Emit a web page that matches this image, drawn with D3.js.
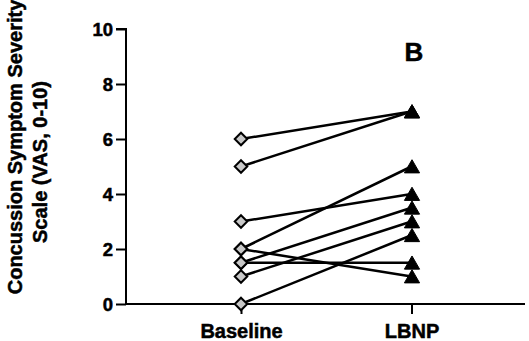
<!DOCTYPE html>
<html>
<head>
<meta charset="utf-8">
<script src="https://cdn.jsdelivr.net/npm/d3@7"></script>
<style>
  body { margin: 0; background: #fff; }
  svg { display: block; }
  svg text { font-family: "Liberation Sans", Arial, sans-serif; font-weight: bold; fill: #000; stroke: #000; stroke-width: 0.5px; }
</style>
</head>
<body>
<div id="chart"></div>
<script>
const conditions = ['Baseline', 'LBNP'];
const baselineValues = [6, 5, 3, 2, 2, 1.5, 1.5, 1, 0];
const lbnpValues = [7, 7, 4, 5, 1, 3.5, 1.5, 3, 2.5];
const yTicks = [0, 2, 4, 6, 8, 10];
const panelLabel = 'B';
const yTitle = ['Concussion Symptom Severity', 'Scale (VAS, 0-10)'];

const width = 529, height = 341;
const margin = { top: 29, right: 4, bottom: 37, left: 126 };

const svg = d3.select('#chart').append('svg')
    .attr('width', width)
    .attr('height', height);

const y = d3.scaleLinear()
    .domain([0, 10])
    .range([height - margin.bottom, margin.top]);

const x = d3.scalePoint()
    .domain(conditions)
    .range([241, 411.5]);

// axes
const yAxis = svg.append('g')
    .attr('transform', `translate(${margin.left},0)`)
    .call(d3.axisLeft(y).tickValues(yTicks).tickSize(10).tickPadding(3));
yAxis.attr('font-family', null);
yAxis.select('.domain').attr('stroke', '#000').attr('stroke-width', 2).attr('d', `M-10,${y(10)}H0V${y(0)}`);
yAxis.selectAll('.tick line').attr('stroke', '#000').attr('stroke-width', 2);
yAxis.selectAll('.tick text').attr('font-size', 18.5).attr('dy', '0.35em');

const xAxis = svg.append('g')
    .attr('transform', `translate(0,${y(0)})`)
    .call(d3.axisBottom(x).tickSize(10).tickPadding(4));
xAxis.attr('font-family', null);
xAxis.select('.domain').attr('stroke', '#000').attr('stroke-width', 2).attr('d', `M${margin.left},0H${width - margin.right}`);
xAxis.selectAll('.tick line').attr('stroke', '#000').attr('stroke-width', 2);
xAxis.selectAll('.tick text').attr('font-size', 20).attr('dy', '1.0em');

// y title, two lines
svg.append('text')
    .attr('transform', 'translate(22,147) rotate(-90)')
    .attr('text-anchor', 'middle')
    .attr('font-size', 20)
    .text(yTitle[0]);
svg.append('text')
    .attr('transform', 'translate(47,162) rotate(-90)')
    .attr('text-anchor', 'middle')
    .attr('font-size', 20)
    .text(yTitle[1]);

// panel label
svg.append('text')
    .attr('x', 414)
    .attr('y', 61)
    .attr('text-anchor', 'middle')
    .attr('font-size', 26)
    .text(panelLabel);

// paired lines
const pairs = baselineValues.map((b, i) => ({ b: b, l: lbnpValues[i] }));
svg.append('g').selectAll('line')
    .data(pairs)
    .join('line')
    .attr('x1', x('Baseline'))
    .attr('y1', d => y(d.b))
    .attr('x2', x('LBNP'))
    .attr('y2', d => y(d.l))
    .attr('stroke', '#000')
    .attr('stroke-width', 2.5);

// markers
const diamond = d3.symbol().type(d3.symbolDiamond2).size(100);
svg.append('g').selectAll('path')
    .data(baselineValues)
    .join('path')
    .attr('transform', d => `translate(${x('Baseline')},${y(d)})`)
    .attr('d', diamond)
    .attr('fill', '#c8c8c8')
    .attr('stroke', '#000')
    .attr('stroke-width', 2);

const tri = d3.symbol().type(d3.symbolTriangle).size(100);
svg.append('g').selectAll('path')
    .data(lbnpValues)
    .join('path')
    .attr('transform', d => `translate(${x('LBNP') + 0.5},${y(d) + 2})`)
    .attr('d', tri)
    .attr('fill', '#000')
    .attr('stroke', '#000')
    .attr('stroke-width', 1);
</script>
</body>
</html>
